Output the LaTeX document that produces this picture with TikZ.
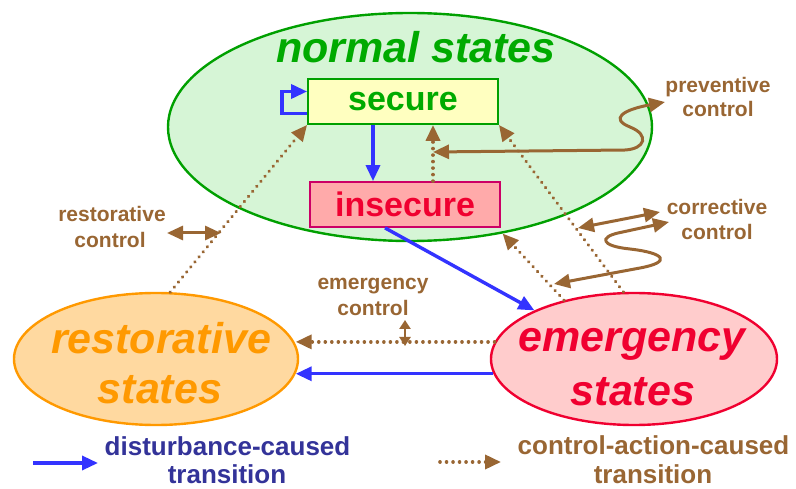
\documentclass[tikz,border=0pt]{standalone}
\usepackage{fontspec}
\setmainfont{Liberation Sans}
\usetikzlibrary{arrows.meta,shapes.geometric,calc}
\definecolor{grnline}{HTML}{00A000}
\definecolor{grntxt}{HTML}{00AA00}
\definecolor{normfill}{HTML}{D6F5D6}
\definecolor{secfill}{HTML}{FFFFC0}
\definecolor{insfill}{HTML}{FFAAAA}
\definecolor{insline}{HTML}{CC0066}
\definecolor{redtxt}{HTML}{F00030}
\definecolor{restfill}{HTML}{FFD9A0}
\definecolor{orng}{HTML}{FF9900}
\definecolor{emerfill}{HTML}{FFCCCC}
\definecolor{emerline}{HTML}{F00030}
\definecolor{brwn}{HTML}{996633}
\definecolor{arrblue}{HTML}{3333FF}
\definecolor{legblue}{HTML}{333399}
\begin{document}
\begin{tikzpicture}[x=1pt,y=-1pt,
  tip/.tip={Triangle[length=16pt,width=14pt]},
  bluearr/.style={draw=arrblue, line width=3.4pt, -tip},
  brnarr/.style={draw=brwn, line width=3pt, -tip},
  brnboth/.style={draw=brwn, line width=3pt, tip-tip},
  dotarr/.style={brnarr, line width=3.6pt, line cap=round, dash pattern=on 0.01pt off 6.5pt},
  bigtitle/.style={anchor=base, inner sep=0pt, font=\bfseries\itshape\fontsize{43}{43}\selectfont},
  smalllbl/.style={anchor=base, inner sep=0pt, text=brwn, font=\bfseries\fontsize{21}{21}\selectfont},
  leglbl/.style={anchor=base, inner sep=0pt, font=\bfseries\fontsize{26}{26}\selectfont},
  boxtxt/.style={inner sep=0pt, line width=1.8pt, font=\bfseries\fontsize{34}{34}\selectfont}
]
\useasboundingbox (0,0) rectangle (796,489);
\fill[white] (0,0) rectangle (796,489);

% state ellipses
\node[ellipse, draw=grnline, line width=2.4pt, fill=normfill, minimum width=484pt, minimum height=228pt, inner sep=0pt] (normal) at (410,127) {};
\node[ellipse, draw=orng, line width=2.4pt, fill=restfill, minimum width=284pt, minimum height=132pt, inner sep=0pt] (rest) at (156,359) {};
\node[ellipse, draw=emerline, line width=2.4pt, fill=emerfill, minimum width=286pt, minimum height=132pt, inner sep=0pt] (emer) at (634,359) {};

% titles
\node[bigtitle, text=grntxt] (ntitle) at (416,63) {normal states};
\node[bigtitle, text=orng] (rtitle1) at (161,353) {restorative};
\node[bigtitle, text=orng] (rtitle2) at (160,403) {states};
\node[bigtitle, text=redtxt] (etitle1) at (632,352) {emergency};
\node[bigtitle, text=redtxt] (etitle2) at (633,405) {states};

% boxes
\node[boxtxt, draw=grnline, fill=secfill, text=grntxt, minimum width=190pt, minimum height=45pt] (sec) at (403,101.5) {secure};
\node[boxtxt, draw=insline, fill=insfill, text=redtxt, minimum width=190pt, minimum height=45pt] (ins) at (405,204.5) {insecure};

% blue transitions
\draw[bluearr] ([yshift=-12pt]sec.west) -- ++(-25,0) -- ++(0,-22) -- ([yshift=10pt]sec.west);
\draw[bluearr] ([xshift=-30pt]sec.south) -- ([xshift=-32pt]ins.north);
\draw[bluearr] ([xshift=-20pt]ins.south) -- (emer.154);
\draw[bluearr] (emer.186.6) -- (rest.-6.6 |- emer.186.6);

% dotted control transitions
\draw[dotarr] (rest.78) -- (sec.south west);
\draw[dotarr] (emer.99.5) -- (sec.south east);
\draw[dotarr] (emer.140) -- (normal.-49.3);
\draw[dotarr] ([xshift=28pt]ins.north) -- ([xshift=30pt]sec.south);
\draw[dotarr] (emer.173.4) -- (rest.6.6 |- emer.173.4);

% preventive control
\coordinate (pvs) at (433,152);
\coordinate (pve) at (665,102);
\draw[brnboth] (pvs) -- (625,150) .. controls (645,149) and (650,135) .. (630,127) .. controls (610,119) and (622,110) .. (pve);
\node[smalllbl] (pv1) at (718,93) {preventive};
\node[smalllbl] (pv2) at (718,117) {control};

% corrective control
\coordinate (cc1) at (578,228);
\coordinate (cc2) at (660,212);
\coordinate (cc3) at (669,222);
\coordinate (cc4) at (554,284);
\draw[brnboth] (cc1) -- (cc2);
\draw[brnboth] (cc3) -- (618,233) .. controls (600,237) and (600,246) .. (630,249) .. controls (665,253) and (672,262) .. (640,268) -- (cc4);
\node[smalllbl] (cr1) at (717,215) {corrective};
\node[smalllbl] (cr2) at (717,240) {control};

% restorative control
\coordinate (rc1) at (167,233);
\coordinate (rc2) at (221,233);
\draw[brnboth] (rc1) -- (rc2);
\node[smalllbl] (rs1) at (112,222) {restorative};
\node[smalllbl] (rs2) at (110,248) {control};

% emergency control
\coordinate (ec1) at (405,320);
\coordinate (ec2) at (405,346);
\draw[draw=brwn, line width=2.8pt, {Triangle[length=9pt,width=11pt]}-{Triangle[length=9pt,width=11pt]}] (ec1) -- (ec2);
\node[smalllbl] (em1) at (373,290) {emergency};
\node[smalllbl] (em2) at (373,316) {control};

% legend
\coordinate (lb1) at (33,463);
\coordinate (lb2) at (98,463);
\draw[bluearr] (lb1) -- (lb2);
\node[leglbl, text=legblue] (lg1) at (227.5,455) {disturbance-caused};
\node[leglbl, text=legblue] (lg2) at (227,483) {transition};
\coordinate (ld1) at (440,462);
\coordinate (ld2) at (501,462);
\draw[dotarr] (ld1) -- (ld2);
\node[leglbl, text=brwn] (lc1) at (653.5,454) {control-action-caused};
\node[leglbl, text=brwn] (lc2) at (653,483) {transition};
\end{tikzpicture}
\end{document}
